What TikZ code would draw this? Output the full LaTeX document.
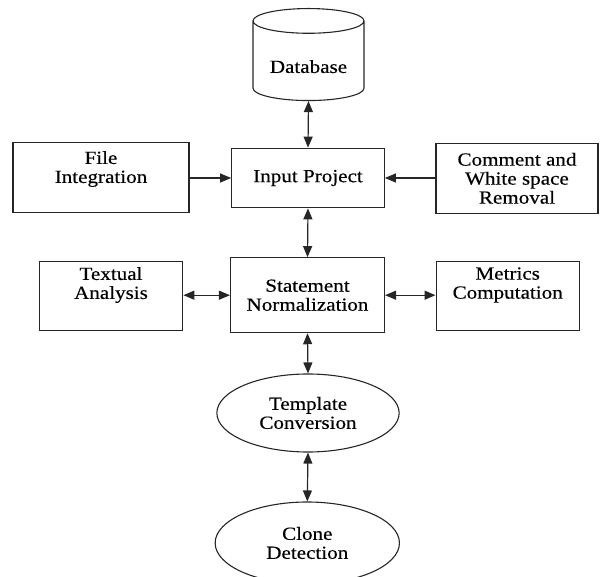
\documentclass[tikz,border=0pt]{standalone}
\usepackage{fontspec}
\setmainfont{Liberation Serif}[FakeStretch=1.14,FakeBold=0.4]
\usetikzlibrary{arrows.meta,shapes.geometric}

\begin{document}
\begin{tikzpicture}[x=1pt,y=-1pt,>={Triangle[length=11pt,width=9pt]},line width=1.1pt,
  font=\fontsize{18.5}{19}\selectfont,
  box/.style={draw=black!85,rectangle,align=center,inner sep=0pt},
  oval/.style={draw=black!85,ellipse,align=center,inner sep=0pt},
  link/.style={<->,draw=black!85,line width=1.2pt}]
  \useasboundingbox (0,0) rectangle (600,577);

  % 数据库与输入
  \node[draw=black!85,cylinder,shape border rotate=90,aspect=0.32,
        minimum width=111pt,minimum height=92pt,inner sep=0pt,text height=24pt] (db) at (308.5,61) {Database};
  \node[box,minimum width=152.6pt,minimum height=59.7pt] (ip) at (308,178) {Input Project};
  \node[box,minimum width=176pt,minimum height=69.6pt,text depth=21pt] (fi) at (101,177.5) {File\\Integration};
  \node[box,minimum width=162pt,minimum height=70pt] (cw) at (517,178.3) {Comment and\\White space\\Removal};

  % 规范化一行
  \node[box,minimum width=154pt,minimum height=75pt] (sn) at (307.5,295.2) {Statement\\Normalization};
  \node[box,minimum width=143.7pt,minimum height=68.3pt,text depth=26pt] (ta) at (111,296) {Textual\\Analysis};
  \node[box,minimum width=143.3pt,minimum height=68.3pt,text depth=26pt] (mc) at (507.7,296) {Metrics\\Computation};

  % 椭圆
  \node[oval,minimum width=182.3pt,minimum height=78pt] (tc) at (308,413) {Template\\Conversion};
  \node[oval,minimum width=184.3pt,minimum height=82pt] (cd) at (307.3,543) {Clone\\Detection};

  % 箭头
  \draw[link] (db.south) -- (ip.north);
  \draw[link,<-] (ip.west) -- (fi.east |- ip.west);
  \draw[link,<-] (ip.east) -- (cw.west |- ip.east);
  \draw[link] (ip.south) -- (sn.north);
  \draw[link] (ta.east |- sn.west) -- (sn.west);
  \draw[link] (sn.east) -- (mc.west |- sn.east);
  \draw[link] (sn.south) -- (tc.north);
  \draw[link] (tc.south) -- (cd.north);
\end{tikzpicture}
\end{document}
